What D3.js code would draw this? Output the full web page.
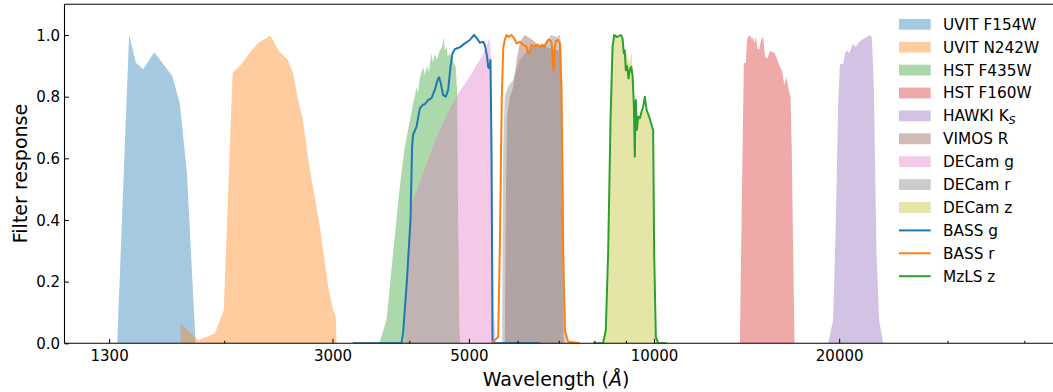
<!DOCTYPE html>
<html><head><meta charset="utf-8">
<script src="https://cdn.jsdelivr.net/npm/d3@7"></script>
<style>
body{margin:0;background:#fff}
svg{display:block}
text{font-family:"DejaVu Sans",sans-serif;fill:#000}
</style>
</head><body>
<svg id="chart" width="1053" height="392"></svg>
<script>
// ---------- data: [wavelength (Å), response] ----------
const uvitF154W = [[1340,0],[1401,1.0],[1437,0.91],[1477,0.889],[1539,0.944],[1646,0.868],[1694,0.778],[1740,0.551],[1797,0]];
const uvitN242W = [[1700,0],[1700,0.065],[1815,0.01],[1931,0.032],[1997,0.108],[2064,0.878],[2134,0.906],[2216,0.951],[2286,0.978],[2379,0.998],[2454,0.948],[2536,0.921],[2589,0.876],[2638,0.789],[2682,0.730],[2746,0.584],[2862,0.378],[2952,0.184],[2997,0.119],[3038,0.086],[3046,0]];
const hstF435W = [[3555,0],[3582,0.005],[3673,0.076],[3764,0.292],[3860,0.508],[3933,0.638],[3982,0.692],[4007,0.72],[4057,0.778],[4083,0.80],[4110,0.832],[4130,0.81],[4161,0.86],[4212,0.897],[4239,0.87],[4271,0.90],[4303,0.88],[4347,0.941],[4368,0.91],[4401,0.94],[4434,0.92],[4484,0.951],[4518,0.96],[4552,0.994],[4569,0.95],[4598,0.962],[4620,0.93],[4655,0.94],[4685,0.930],[4725,0.91],[4761,0.897],[4784,0.816],[4802,0.4],[4824,0.05],[4842,0]];
const hstF160W = [[13788,0],[13927,0.616],[13995,0.908],[14100,0.91],[14169,0.989],[14313,1.0],[14420,0.989],[14490,0.99],[14566,0.973],[14638,0.996],[14730,0.955],[14820,0.954],[14932,0.984],[15044,0.993],[15157,0.93],[15293,0.924],[15426,0.949],[15570,0.945],[15717,0.941],[15860,0.92],[16015,0.897],[16136,0.886],[16220,0.86],[16300,0.838],[16422,0.865],[16520,0.832],[16583,0.816],[16670,0.8],[16752,0.616],[16834,0.292],[16921,0]];
const hawkiKs = [[19193,0],[19556,0.076],[19755,0.4],[19925,0.778],[20053,0.903],[20181,0.908],[20300,0.905],[20432,0.941],[20604,0.951],[20780,0.94],[20946,0.962],[21072,0.971],[21286,0.962],[21470,0.973],[21745,0.984],[22156,0.994],[22432,1.0],[22601,0.994],[22771,0.832],[23002,0.292],[23227,0.076],[23578,0]];
const vimosR = [[5719,0],[5745,0.5],[5770,0.74],[5830,0.80],[5900,0.83],[5990,0.93],[6060,0.98],[6160,1.0],[6280,0.99],[6420,0.975],[6560,0.965],[6700,0.96],[6850,0.955],[7000,0.95],[7050,0.9],[7080,0.5],[7110,0.1],[7133,0]];
const decamG = [[3933,0],[3955,0.15],[3977,0.3],[4007,0.41],[4057,0.465],[4212,0.55],[4429,0.67],[4655,0.76],[4802,0.81],[5017,0.865],[5208,0.92],[5341,0.96],[5397,0.99],[5427,0.95],[5458,0.5],[5489,0.1],[5530,0]];
const decamR = [[5662,0],[5683,0.616],[5719,0.8],[5790,0.832],[5900,0.854],[6050,0.919],[6240,0.951],[6399,0.962],[6562,0.964],[6726,0.989],[6812,1.0],[6941,0.994],[7027,1.0],[7072,0.962],[7115,0.616],[7160,0.184],[7206,0]];
const decamZ = [[8317,0],[8421,0.184],[8497,0.616],[8561,0.941],[8602,0.994],[8690,1.0],[8798,0.99],[8874,0.99],[8941,0.951],[9021,0.941],[9110,0.908],[9192,0.946],[9247,0.865],[9282,0.778],[9331,0.584],[9376,0.68],[9422,0.724],[9543,0.746],[9661,0.757],[9781,0.735],[9881,0.703],[9944,0.692],[9966,0.292],[10030,0.043],[10094,0]];
const bassG = [[3238,0],[3885,0],[3908,0.032],[3963,0.2],[4018,0.4],[4042,0.638],[4057,0.676],[4110,0.703],[4161,0.762],[4203,0.773],[4239,0.776],[4292,0.789],[4347,0.795],[4401,0.822],[4446,0.854],[4472,0.863],[4501,0.843],[4540,0.805],[4586,0.8],[4626,0.822],[4667,0.897],[4702,0.941],[4743,0.954],[4784,0.957],[4833,0.960],[4924,0.973],[5017,0.984],[5098,1.0],[5156,0.989],[5208,0.975],[5273,0.978],[5307,0.968],[5353,0.930],[5373,0.897],[5393,0.892],[5421,0.919],[5442,0.616],[5462,0.01],[5489,0],[6520,0]];
const bassR = [[5442,0],[5578,0.02],[5613,0.3],[5655,0.8],[5687,0.96],[5719,0.984],[5756,1.0],[5806,0.994],[5865,1.0],[5922,0.99],[5975,0.973],[6050,0.978],[6125,0.968],[6203,0.962],[6240,0.941],[6280,0.945],[6320,0.968],[6382,0.962],[6440,0.968],[6520,0.962],[6577,0.968],[6644,0.962],[6686,0.975],[6726,0.984],[6769,0.984],[6812,0.978],[6838,0.930],[6864,0.886],[6889,0.951],[6923,0.981],[6983,0.984],[7027,0.973],[7072,0.832],[7115,0.292],[7160,0.043],[7249,0.005],[7574,0]];
const mzlsZ = [[7961,0],[8264,0],[8348,0.043],[8421,0.292],[8497,0.724],[8561,0.962],[8612,1.0],[8690,0.994],[8765,0.996],[8831,1.0],[8887,0.989],[8931,0.941],[8960,0.95],[8998,0.886],[9042,0.90],[9089,0.859],[9134,0.886],[9178,0.897],[9226,0.870],[9271,0.778],[9306,0.605],[9341,0.789],[9376,0.692],[9422,0.735],[9482,0.730],[9543,0.751],[9600,0.767],[9661,0.8],[9723,0.757],[9818,0.735],[9907,0.708],[9966,0.692],[10004,0.292],[10067,0.021],[10154,0],[10479,0]];

const fillNames  = ["UVIT F154W","UVIT N242W","HST F435W","HST F160W","HAWKI K","VIMOS R","DECam g","DECam r","DECam z"];
const fillData   = [uvitF154W, uvitN242W, hstF435W, hstF160W, hawkiKs, vimosR, decamG, decamR, decamZ];
const fillColors = ["#1f77b4","#ff7f0e","#2ca02c","#d62728","#9467bd","#8c564b","#e377c2","#7f7f7f","#bcbd22"];
const lineNames  = ["BASS g","BASS r","MzLS z"];
const lineData   = [bassG, bassR, mzlsZ];
const lineColors = ["#1f77b4","#ff7f0e","#2ca02c"];

const xMajorTicks = [1300, 3000, 5000, 10000, 20000];
const xMinorTicks = [2000, 4000, 6000, 7000, 8000, 9000, 30000, 40000];
const yTicks = [0, 0.2, 0.4, 0.6, 0.8, 1.0];

// ---------- layout ----------
const L = 64.5, B = 343.3, T = 4.2;
const pxPerDecade = 615;
const x = d3.scaleLog().domain([1100, 50000]).range([L, L + pxPerDecade*Math.log10(50000/1100)]);
const y = d3.scaleLinear().domain([0, 1.1]).range([B, T]);

const svg = d3.select("#chart");
svg.append("defs").append("clipPath").attr("id","clip")
  .append("rect").attr("x", L).attr("y", T).attr("width", 1053 - L).attr("height", B - T);

const plot = svg.append("g").attr("clip-path","url(#clip)");
const area = d3.area().x(d => x(d[0])).y0(y(0)).y1(d => y(d[1]));
const line = d3.line().x(d => x(d[0])).y(d => y(d[1]));

fillData.forEach((d, i) => {
  plot.append("path").datum(d).attr("d", area)
    .attr("fill", fillColors[i]).attr("fill-opacity", 0.4).attr("stroke", "none");
});
lineData.forEach((d, i) => {
  plot.append("path").datum(d).attr("d", line)
    .attr("fill", "none").attr("stroke", lineColors[i]).attr("stroke-width", 2)
    .attr("stroke-linejoin","round");
});

// ---------- axes ----------
const gx = svg.append("g").attr("transform", `translate(0,${B})`)
  .call(d3.axisBottom(x).tickValues(xMajorTicks).tickFormat(d3.format("d"))
    .tickSizeInner(-4.5).tickSizeOuter(0).tickPadding(7));
const gxm = svg.append("g").attr("transform", `translate(0,${B})`)
  .call(d3.axisBottom(x).tickValues(xMinorTicks).tickFormat("")
    .tickSizeInner(-2.5).tickSizeOuter(0));
const gy = svg.append("g").attr("transform", `translate(${L},0)`)
  .call(d3.axisLeft(y).tickValues(yTicks).tickFormat(d3.format(".1f"))
    .tickSizeInner(-4.5).tickSizeOuter(0).tickPadding(4.5));
[gx, gxm, gy].forEach(g => {
  g.select(".domain").remove();
  g.selectAll("line").attr("stroke","#000").attr("stroke-width",1);
  g.selectAll("text").style("font-family","'DejaVu Sans',sans-serif").style("font-size","15px").attr("fill","#000");
});
gy.selectAll("text").attr("dy","0.34em");

// spines
const spines = svg.append("g").attr("stroke","#000").attr("stroke-width",1.1).attr("fill","none");
spines.append("line").attr("x1",L).attr("x2",1053).attr("y1",B).attr("y2",B);
spines.append("line").attr("x1",L).attr("x2",1053).attr("y1",T).attr("y2",T);
spines.append("line").attr("x1",L).attr("x2",L).attr("y1",T).attr("y2",B);

// axis labels
const xl = svg.append("text").attr("x", 556).attr("y", 385.5).attr("text-anchor","middle").style("font-size","19px");
xl.append("tspan").text("Wavelength (");
xl.append("tspan").attr("font-style","italic").text("Å");
xl.append("tspan").text(")");
svg.append("text").attr("transform","translate(26.5,173.5) rotate(-90)").attr("text-anchor","middle")
  .style("font-size","19px").text("Filter response");

// ---------- legend ----------
const lg = svg.append("g");
const rowY0 = 24.3, rowStep = 22.9, hx = 899, hw = 31.7, tx = 943;
fillNames.forEach((n, i) => {
  const cy = rowY0 + i*rowStep;
  lg.append("rect").attr("x", hx).attr("y", cy - 5.4).attr("width", hw).attr("height", 10.8)
    .attr("fill", fillColors[i]).attr("fill-opacity", 0.4);
  const t = lg.append("text").attr("x", tx).attr("y", cy + 5.4).style("font-size","15.3px");
  t.append("tspan").text(n);
  if (n === "HAWKI K") {
    t.append("tspan").attr("font-style","italic").style("font-size","10.7px").attr("dy", 3).text("S");
  }
});
lineNames.forEach((n, j) => {
  const cy = rowY0 + (fillNames.length + j)*rowStep;
  lg.append("line").attr("x1", hx).attr("x2", hx + hw).attr("y1", cy).attr("y2", cy)
    .attr("stroke", lineColors[j]).attr("stroke-width", 2);
  lg.append("text").attr("x", tx).attr("y", cy + 5.4).style("font-size","15.3px").text(n);
});
</script>
</body></html>
